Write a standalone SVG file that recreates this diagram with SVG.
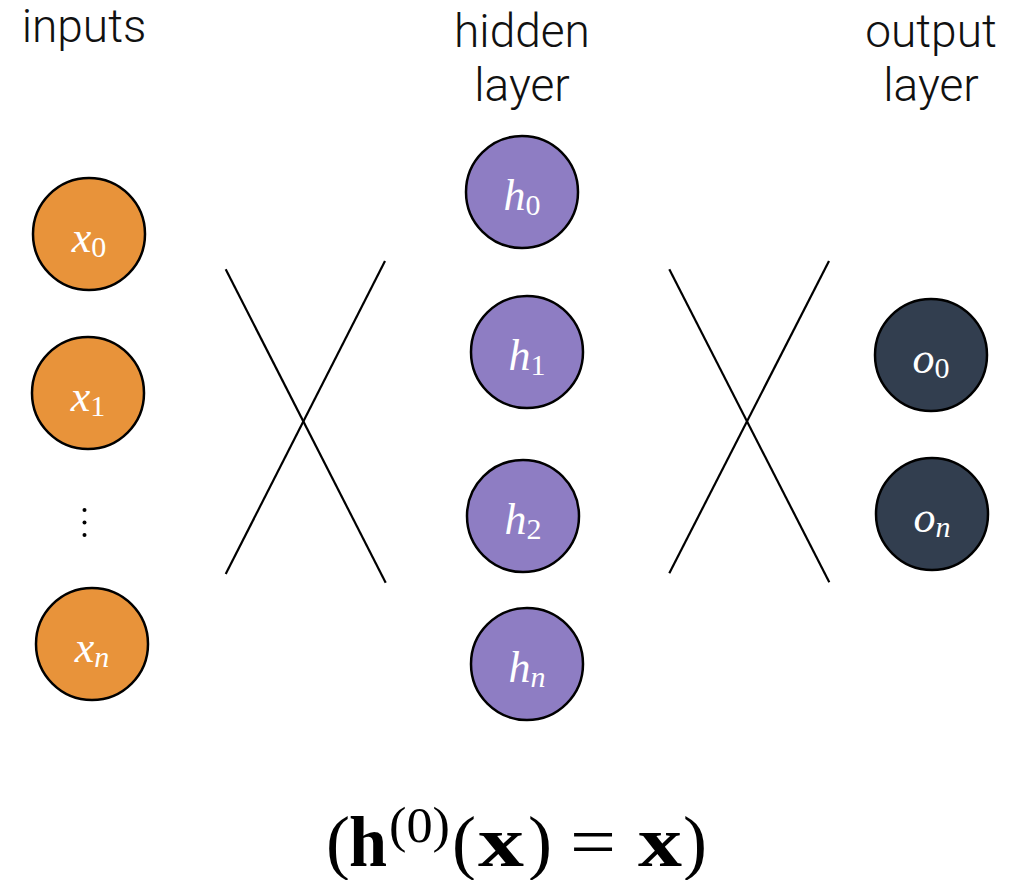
<svg xmlns="http://www.w3.org/2000/svg" width="1025" height="880" viewBox="0 0 1025 880">
<style>
.hdr{font-family:Roboto,"Liberation Sans",sans-serif;font-weight:300;font-size:46px;fill:#111;text-anchor:middle}
.node circle{stroke:#000;stroke-width:2.5}
.in circle{fill:#E8933A}
.hid circle{fill:#8E7DC3}
.out circle{fill:#323E4F}
.lbl{font-family:"Liberation Serif","Times New Roman",serif;font-style:italic;font-size:44px;fill:#fff;text-anchor:middle}
.sub{font-style:normal;font-size:30px}
.subi{font-style:italic;font-size:30px}
.conn line{stroke:#000;stroke-width:2.2}
.f{font-family:"Liberation Serif","Times New Roman",serif;font-size:72px;fill:#000}
.fb{font-weight:bold}
.fs{font-size:50px}
</style>
<rect width="1025" height="880" fill="#fff"/>
<g id="headers">
<text class="hdr" x="84" y="42">inputs</text>
<text class="hdr" x="522" y="47">hidden</text>
<text class="hdr" x="522" y="101">layer</text>
<text class="hdr" x="931" y="47">output</text>
<text class="hdr" x="931" y="101">layer</text>
</g>
<g id="connectors" class="conn">
<line x1="225.7" y1="269.3" x2="385.7" y2="582.7"/>
<line x1="385" y1="261" x2="225.7" y2="574"/>
<line x1="669.3" y1="269.3" x2="829.3" y2="582.3"/>
<line x1="829" y1="261" x2="669.3" y2="573.3"/>
</g>
<g id="x0" class="node in"><circle cx="89" cy="234" r="56"/><text class="lbl" x="89" y="252">x<tspan class="sub" dy="5">0</tspan></text></g>
<g id="x1" class="node in"><circle cx="88" cy="393" r="56"/><text class="lbl" x="88" y="411">x<tspan class="sub" dy="5">1</tspan></text></g>
<g id="dots" fill="#000"><circle cx="84.5" cy="510" r="2"/><circle cx="84.5" cy="522.5" r="2"/><circle cx="84.5" cy="535" r="2"/></g>
<g id="xn" class="node in"><circle cx="92" cy="644" r="56"/><text class="lbl" x="92" y="662">x<tspan class="subi" dy="5">n</tspan></text></g>
<g id="h0" class="node hid"><circle cx="522" cy="192" r="56"/><text class="lbl" x="522" y="210">h<tspan class="sub" dy="5">0</tspan></text></g>
<g id="h1" class="node hid"><circle cx="527" cy="352" r="56"/><text class="lbl" x="527" y="370">h<tspan class="sub" dy="5">1</tspan></text></g>
<g id="h2" class="node hid"><circle cx="523" cy="516" r="56"/><text class="lbl" x="523" y="534">h<tspan class="sub" dy="5">2</tspan></text></g>
<g id="hn" class="node hid"><circle cx="527" cy="664" r="56"/><text class="lbl" x="527" y="682">h<tspan class="subi" dy="5">n</tspan></text></g>
<g id="o0" class="node out"><circle cx="931" cy="355" r="56"/><text class="lbl" x="931" y="373">o<tspan class="sub" dy="5">0</tspan></text></g>
<g id="on" class="node out"><circle cx="932" cy="514" r="56"/><text class="lbl" x="932" y="532">o<tspan class="subi" dy="5">n</tspan></text></g>
<g id="formula">
<text class="f" x="326" y="866">(</text>
<text class="f fb" x="349" y="866" textLength="38" lengthAdjust="spacingAndGlyphs">h</text>
<text class="f fs" x="389" y="842" textLength="61" lengthAdjust="spacingAndGlyphs">(0)</text>
<text class="f" x="452" y="866">(</text>
<text class="f fb" x="478" y="866" textLength="46" lengthAdjust="spacingAndGlyphs">x</text>
<text class="f" x="528" y="866">)</text>
<text class="f" x="570" y="866" textLength="46" lengthAdjust="spacingAndGlyphs">=</text>
<text class="f fb" x="638" y="866" textLength="44" lengthAdjust="spacingAndGlyphs">x</text>
<text class="f" x="683" y="866">)</text>
</g>
</svg>
